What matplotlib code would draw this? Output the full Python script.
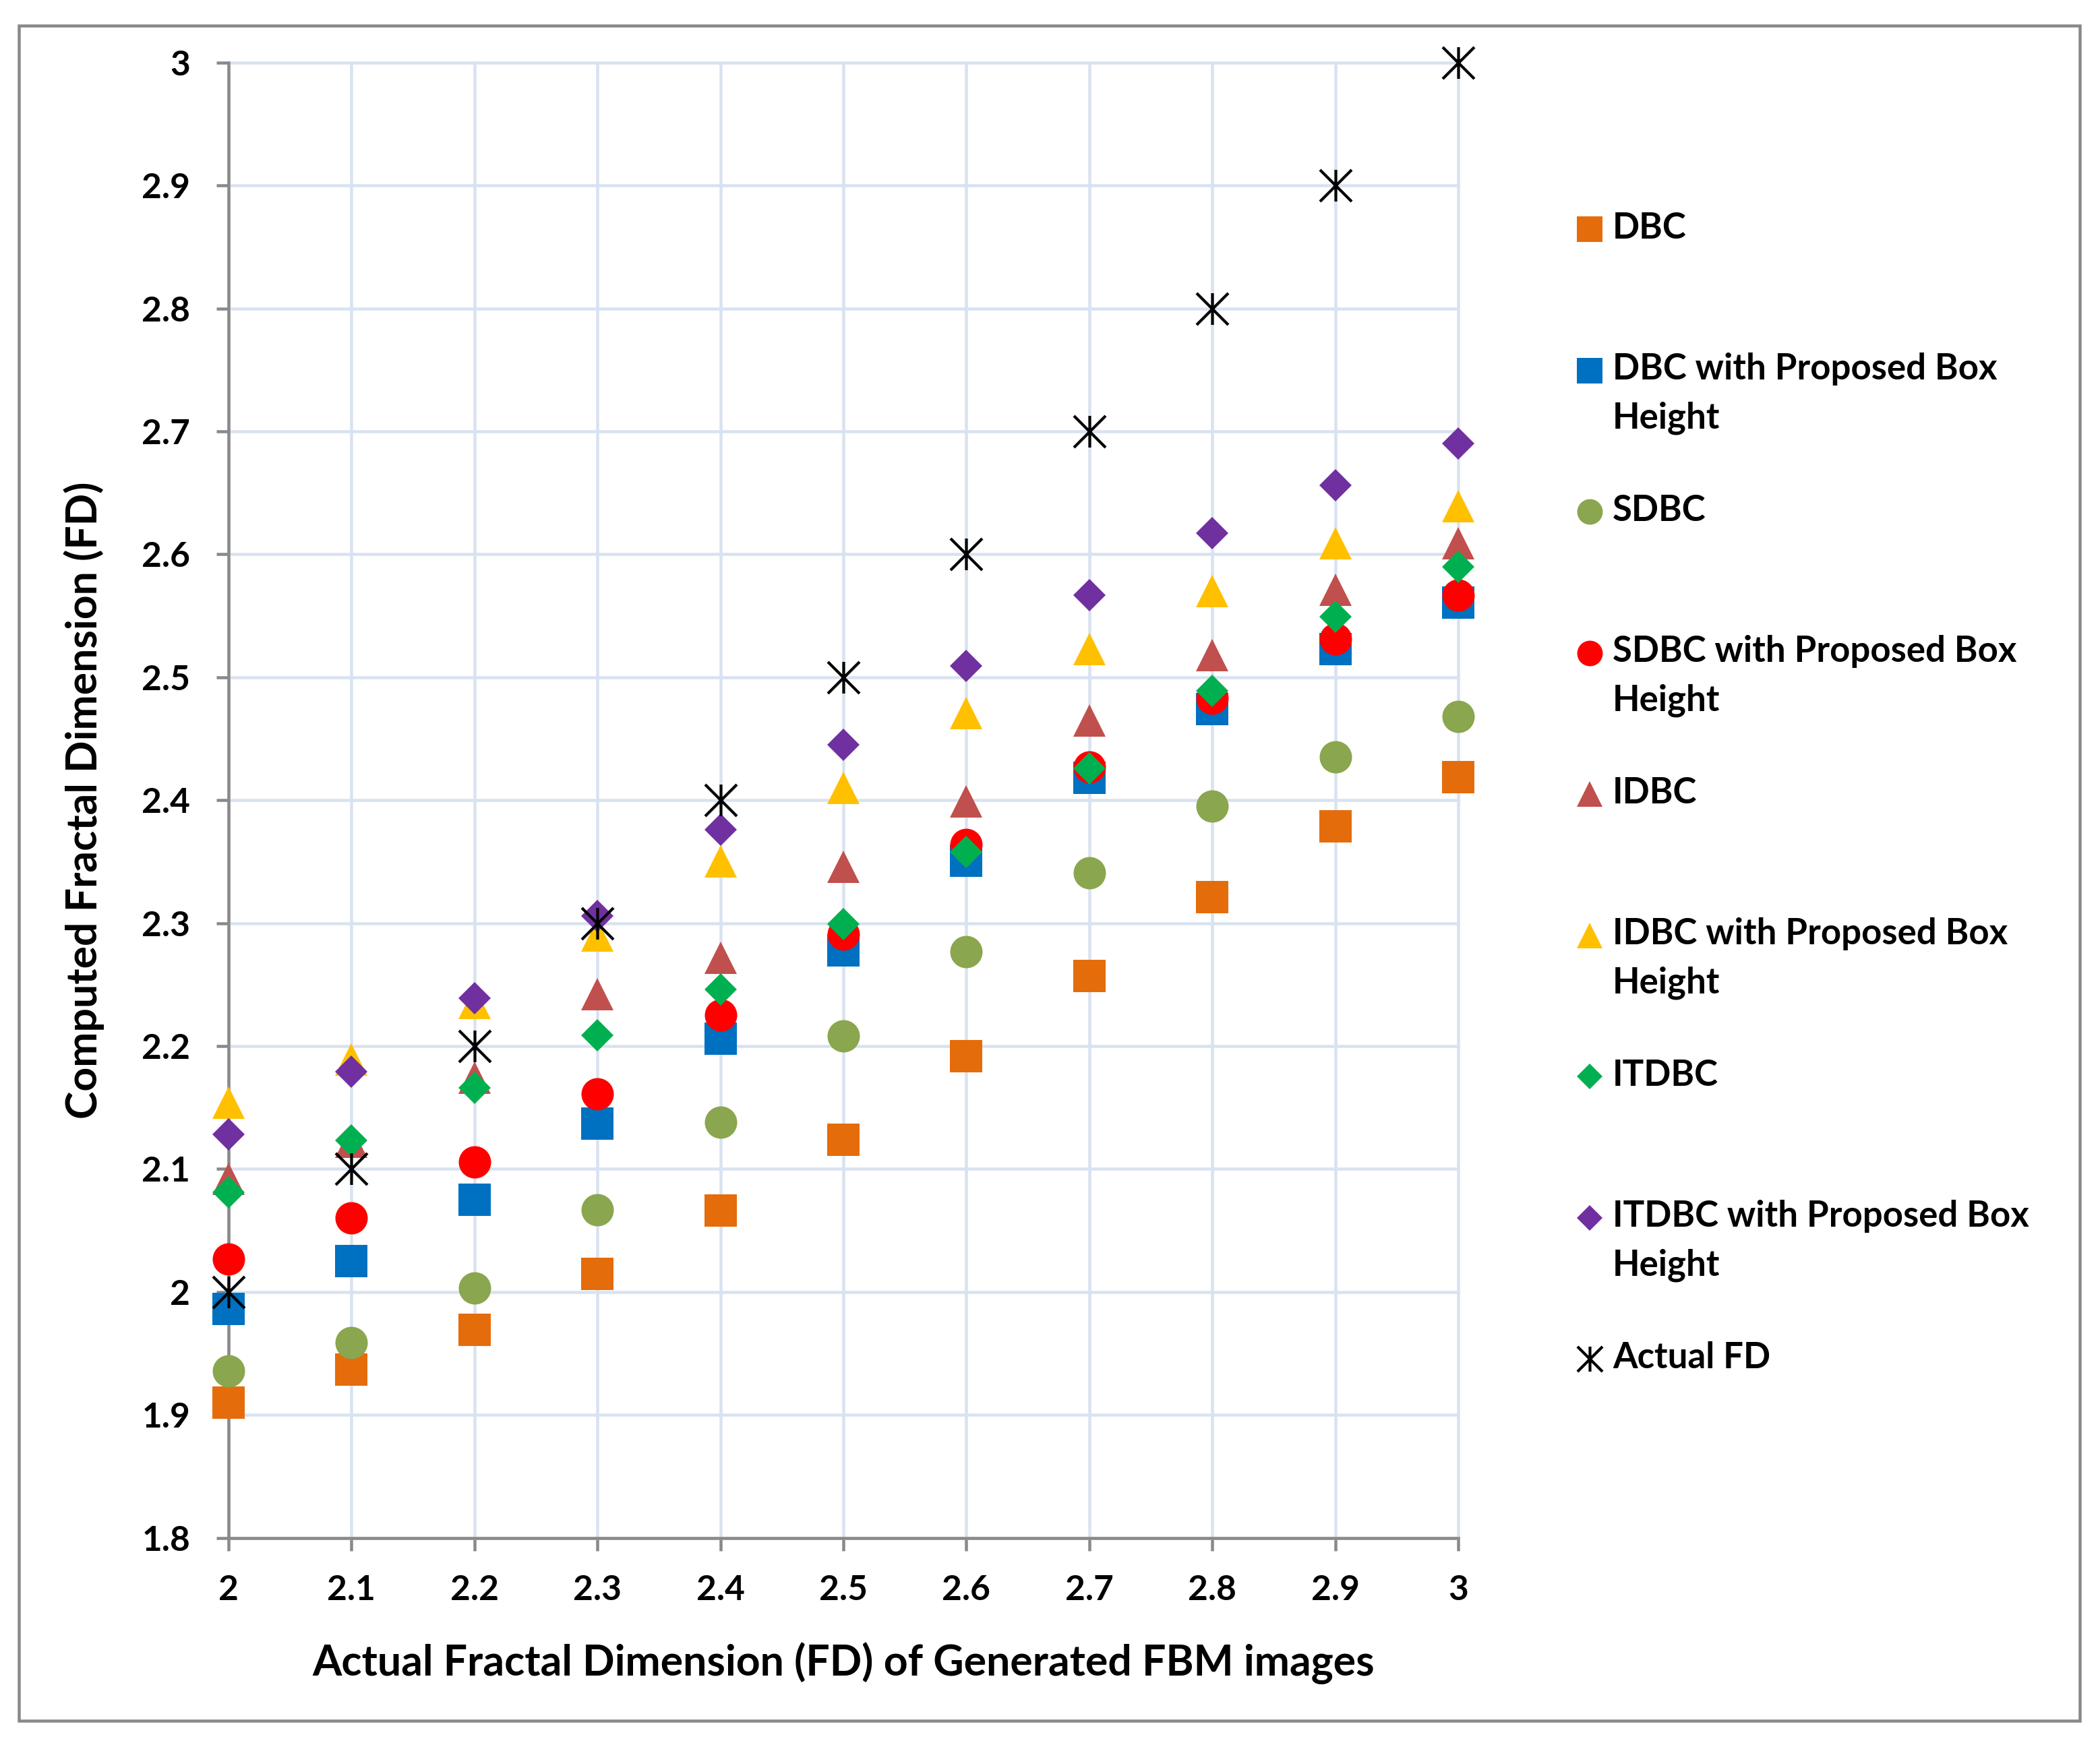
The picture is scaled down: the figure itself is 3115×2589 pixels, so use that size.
import numpy as np
import matplotlib
matplotlib.use("Agg")
import matplotlib.pyplot as plt
from matplotlib.path import Path
from matplotlib.legend_handler import HandlerLine2D
from matplotlib.patches import Rectangle

# ---------------- data ----------------
x_fd = [2.0, 2.1, 2.2, 2.3, 2.4, 2.5, 2.6, 2.7, 2.8, 2.9, 3.0]
dbc = [1.910, 1.937, 1.969, 2.015, 2.066, 2.124, 2.192, 2.257, 2.321, 2.379, 2.419]
dbc_pbh = [1.986, 2.025, 2.075, 2.137, 2.206, 2.278, 2.351, 2.418, 2.474, 2.523, 2.561]
sdbc = [1.936, 1.959, 2.003, 2.067, 2.138, 2.208, 2.277, 2.341, 2.395, 2.435, 2.468]
sdbc_pbh = [2.027, 2.060, 2.106, 2.161, 2.225, 2.291, 2.364, 2.427, 2.483, 2.531, 2.567]
idbc = [2.092, 2.122, 2.174, 2.242, 2.272, 2.346, 2.399, 2.465, 2.518, 2.571, 2.609]
idbc_pbh = [2.154, 2.189, 2.235, 2.290, 2.350, 2.410, 2.471, 2.523, 2.570, 2.609, 2.639]
itdbc = [2.081, 2.123, 2.166, 2.209, 2.246, 2.299, 2.358, 2.426, 2.489, 2.549, 2.590]
itdbc_pbh = [2.128, 2.179, 2.239, 2.306, 2.376, 2.445, 2.509, 2.567, 2.617, 2.656, 2.690]
actual_fd = [2.0, 2.1, 2.2, 2.3, 2.4, 2.5, 2.6, 2.7, 2.8, 2.9, 3.0]

series_labels = ["DBC", "DBC with Proposed Box\nHeight", "SDBC",
                 "SDBC with Proposed Box\nHeight", "IDBC",
                 "IDBC with Proposed Box\nHeight", "ITDBC",
                 "ITDBC with Proposed Box\nHeight", "Actual FD"]

x_ticks = [2.0, 2.1, 2.2, 2.3, 2.4, 2.5, 2.6, 2.7, 2.8, 2.9, 3.0]
x_tick_labels = ["2", "2.1", "2.2", "2.3", "2.4", "2.5", "2.6", "2.7", "2.8", "2.9", "3"]
y_ticks = [1.8, 1.9, 2.0, 2.1, 2.2, 2.3, 2.4, 2.5, 2.6, 2.7, 2.8, 2.9, 3.0]
y_tick_labels = ["1.8", "1.9", "2", "2.1", "2.2", "2.3", "2.4", "2.5", "2.6",
                 "2.7", "2.8", "2.9", "3"]

x_label = "Actual Fractal Dimension (FD) of Generated FBM images"
y_label = "Computed Fractal Dimension (FD)"

# ---------------- style ----------------
FW = 'bold'
plt.rcParams['font.family'] = ['Lato', 'DejaVu Sans']
plt.rcParams['font.weight'] = FW

W, H = 3115, 2589
DPI = 100


def pt(pxv):
    return pxv * 72.0 / DPI


GRAY = '#898989'
GRID = '#D9E2F0'

fig = plt.figure(figsize=(W / DPI, H / DPI), dpi=DPI)

ax_l, ax_r, ax_t, ax_b = 339, 2163, 92.7, 2281.7
ax = fig.add_axes([ax_l / W, 1 - ax_b / H, (ax_r - ax_l) / W, (ax_b - ax_t) / H])

star_path = Path([(-1, -1), (1, 1), (-1, 1), (1, -1), (0, -1), (0, 1)],
                 [Path.MOVETO, Path.LINETO, Path.MOVETO, Path.LINETO,
                  Path.MOVETO, Path.LINETO])

ms_big = pt(48)
ms_dia = pt(48) / np.sqrt(2)

series = [
    (dbc, 's', '#E46C0A', ms_big),
    (dbc_pbh, 's', '#0070C0', ms_big),
    (sdbc, 'o', '#8AA64E', ms_big),
    (sdbc_pbh, 'o', '#FF0000', ms_big),
    (idbc, '^', '#C0504D', ms_big),
    (idbc_pbh, '^', '#FFC000', ms_big),
    (itdbc, 'D', '#00B050', ms_dia),
    (itdbc_pbh, 'D', '#7030A0', ms_dia),
]

handles = []
for i, (vals, mk, col, ms) in enumerate(series):
    h, = ax.plot(x_fd, vals, linestyle='none', marker=mk, markersize=ms,
                 markerfacecolor=col, markeredgewidth=0, clip_on=False,
                 zorder=3 + i)
    handles.append(h)

h, = ax.plot(x_fd, actual_fd, linestyle='none', marker=star_path,
             markersize=pt(47), markerfacecolor='none', markeredgecolor='black',
             markeredgewidth=pt(4.2), clip_on=False, zorder=20)
handles.append(h)

ax.set_xlim(2.0, 3.0)
ax.set_ylim(1.8, 3.0)
ax.set_xticks(x_ticks, labels=x_tick_labels)
ax.set_yticks(y_ticks, labels=y_tick_labels)

for s in ['top', 'right']:
    ax.spines[s].set_visible(False)
for s in ['left', 'bottom']:
    ax.spines[s].set_color(GRAY)
    ax.spines[s].set_linewidth(pt(4.5))
    ax.spines[s].set_zorder(2.5)

ax.tick_params(axis='both', direction='out', color=GRAY, width=pt(4.5),
               labelsize=37, labelcolor='black')
ax.tick_params(axis='x', length=pt(19), pad=25.5)
ax.tick_params(axis='y', length=pt(18), pad=28)
for lab in ax.get_xticklabels() + ax.get_yticklabels():
    lab.set_fontweight(FW)

ax.set_axisbelow(True)
ax.grid(True, color=GRID, linewidth=pt(4.5), clip_on=False)

ax.set_xlabel(x_label, fontsize=45, fontweight=FW)
ax.set_ylabel(y_label, fontsize=45, fontweight=FW)
ax.xaxis.set_label_coords(0.5, (ax_b - 2468) / (ax_b - ax_t))
ax.xaxis.label.set_va('center')
ax.yaxis.set_label_coords((125 - ax_l) / (ax_r - ax_l), 0.5)
ax.yaxis.label.set_va('center')


# ---------------- legend ----------------
class HandlerFirstLine(HandlerLine2D):
    def __init__(self, dy, **kw):
        super().__init__(**kw)
        self.dy = dy

    def create_artists(self, legend, orig_handle, xdescent, ydescent, width,
                       height, fontsize, trans):
        arts = super().create_artists(legend, orig_handle, xdescent, ydescent,
                                      width, height, fontsize, trans)
        for a in arts:
            a.set_ydata(np.asarray(a.get_ydata(), dtype=float) + self.dy)
        return arts


legend_labels = [lab if "\n" in lab else lab + "\n" for lab in series_labels]
hmap = {hd: HandlerFirstLine(pt(36)) for hd in handles}

leg = fig.legend(handles, legend_labels, loc='upper left',
                 bbox_to_anchor=(2333 / W, 1 - 314 / H),
                 frameon=False, borderpad=0, borderaxespad=0,
                 handlelength=0.95, handletextpad=0.17, labelspacing=1.66,
                 markerscale=0.79, handler_map=hmap,
                 prop={'size': 38, 'weight': FW, 'family': ['Lato', 'DejaVu Sans']})
for t in leg.get_texts():
    t.set_linespacing(1.59)

# figure border
fig.add_artist(Rectangle((28 / W, 1 - 2553 / H), (3085 - 28) / W, (2553 - 38) / H,
                         transform=fig.transFigure, fill=False,
                         edgecolor=GRAY, linewidth=pt(4.5)))

fig.savefig("out.png", dpi=DPI, facecolor='white')
